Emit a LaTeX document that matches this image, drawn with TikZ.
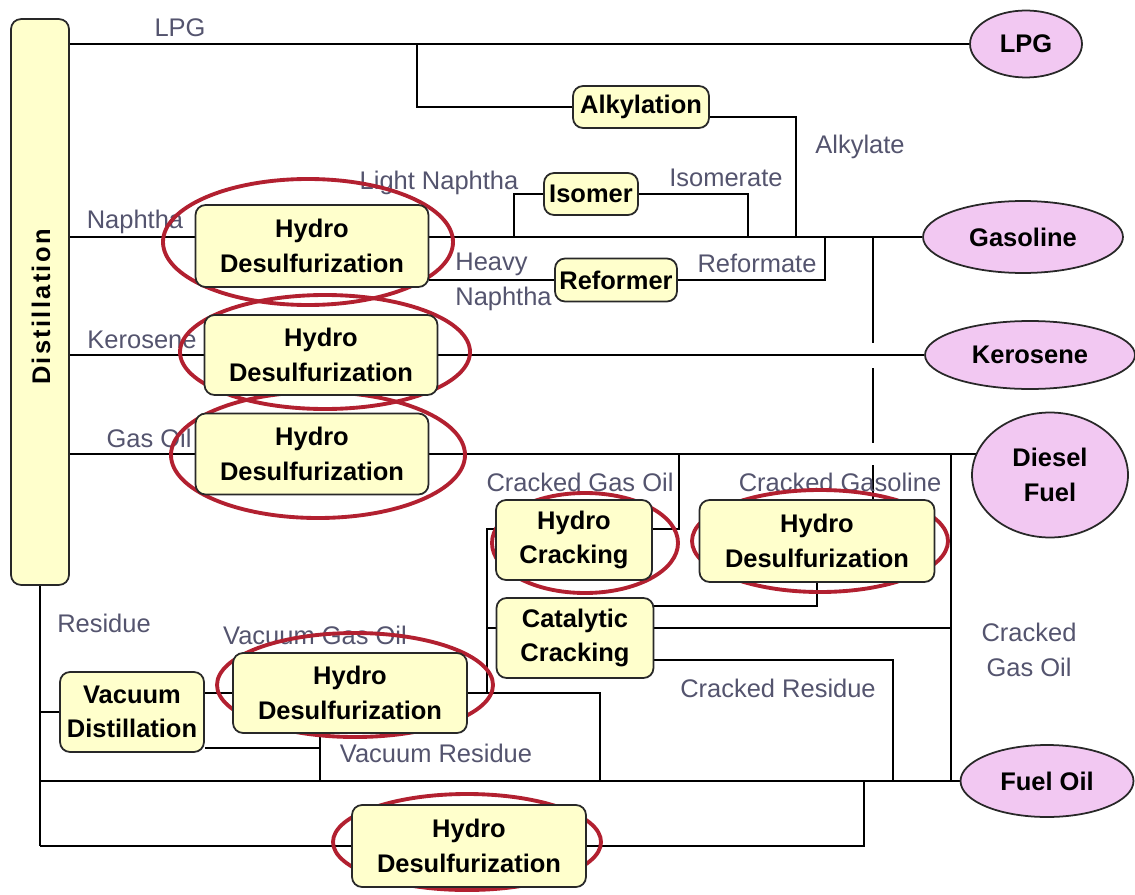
\documentclass[tikz,border=0pt]{standalone}
\usepackage{fontspec}
\setmainfont{Liberation Sans}
\usetikzlibrary{shapes.geometric}
\definecolor{boxfill}{RGB}{255,255,204}
\definecolor{prodfill}{RGB}{242,200,242}
\definecolor{ringred}{RGB}{178,32,48}
\definecolor{flowtext}{RGB}{84,84,110}
\definecolor{edge}{RGB}{40,40,40}
\pgfdeclarelayer{bg}
\pgfsetlayers{bg,main}
\tikzset{
  unit/.style={draw=edge, line width=1pt, rounded corners=0.2cm, fill=boxfill,
    align=center, inner sep=0pt, font=\fontsize{14.5}{19.5}\selectfont\bfseries},
  product/.style={ellipse, draw=edge, line width=1pt, fill=prodfill,
    align=center, inner sep=0pt, font=\fontsize{14.5}{19.5}\selectfont\bfseries},
  stream/.style={text=flowtext, align=center, inner sep=0pt,
    font=\fontsize{14.5}{19.5}\selectfont},
  pipe/.style={line width=1.3pt},
  ring/.style={draw=ringred, line width=2.2pt},
}
\begin{document}
\begin{tikzpicture}[x=0.02cm,y=-0.02cm]
\useasboundingbox (0,0) rectangle (1135,895);
\node[unit,minimum width=1.16cm,minimum height=11.32cm] (dist) at (40,302) {};
\node[rotate=90,font=\fontsize{14.5}{19.5}\selectfont\bfseries\addfontfeatures{LetterSpace=9}] at (41,307) {Distillation};
\node[unit,minimum width=2.72cm,minimum height=0.84cm] (alky) at (641,107) {Alkylation};
\node[unit,minimum width=1.88cm,minimum height=0.84cm] (isomer) at (591,194) {Isomer};
\node[unit,minimum width=2.44cm,minimum height=0.86cm] (reformer) at (616,280) {Reformer};
\node[unit,minimum width=4.66cm,minimum height=1.64cm] (hdsN) at (312,246) {Hydro\\Desulfurization};
\node[unit,minimum width=4.66cm,minimum height=1.6cm] (hdsK) at (321,355) {Hydro\\Desulfurization};
\node[unit,minimum width=4.66cm,minimum height=1.62cm] (hdsG) at (312,454) {Hydro\\Desulfurization};
\node[unit,minimum width=3.12cm,minimum height=1.6cm] (hcrack) at (574,540) {Hydro\\Cracking};
\node[unit,minimum width=4.7cm,minimum height=1.64cm] (hdsC) at (817,541) {Hydro\\Desulfurization};
\node[unit,minimum width=3.14cm,minimum height=1.6cm] (ccrack) at (575,638) {Catalytic\\Cracking};
\node[unit,minimum width=2.88cm,minimum height=1.6cm] (vacd) at (132,712) {Vacuum\\Distillation};
\node[unit,minimum width=4.68cm,minimum height=1.6cm] (hdsV) at (350,693) {Hydro\\Desulfurization};
\node[unit,minimum width=4.68cm,minimum height=1.64cm] (hdsB) at (469,846) {Hydro\\Desulfurization};
\node[product,minimum width=2.24cm,minimum height=1.34cm] (lpg) at (1026,44) {LPG};
\node[product,minimum width=4cm,minimum height=1.44cm] (gas) at (1023,237) {Gasoline};
\node[product,minimum width=4.2cm,minimum height=1.36cm] (kero) at (1030,355) {Kerosene};
\node[product,minimum width=3.12cm,minimum height=2.5cm] (diesel) at (1050,475) {Diesel\\Fuel};
\node[product,minimum width=3.46cm,minimum height=1.44cm] (fuel) at (1047,781) {Fuel Oil};
\coordinate (jAlky) at (417,44);
\coordinate (yAlk) at (0,117);
\coordinate (jAlkylate) at (796,237);
\coordinate (yN) at (0,237);
\coordinate (jLight) at (514,237);
\coordinate (jIsomerate) at (748,237);
\coordinate (jReformate) at (825,237);
\coordinate (jCrGas) at (873,237);
\coordinate (jHC) at (679,454);
\coordinate (yHC) at (0,529);
\coordinate (jCGO) at (951,454);
\coordinate (jCGOb) at (951,781);
\coordinate (y606) at (0,606);
\coordinate (yCC) at (0,628);
\coordinate (y660) at (0,660);
\coordinate (jCR) at (893,781);
\coordinate (jVGO) at (487,693);
\coordinate (jVGOb) at (600,781);
\coordinate (yVR) at (0,748);
\coordinate (jVR) at (320,781);
\coordinate (jRes) at (40,846);
\coordinate (jBot) at (864,781);
\begin{pgfonlayer}{bg}
\draw[pipe] (dist.east |- lpg.west) -- (lpg.west);
\draw[pipe] (jAlky) |- (alky.west);
\draw[pipe] (alky.east |- yAlk) -| (jAlkylate);
\draw[pipe] (dist.east |- yN) -- (hdsN.west |- yN);
\draw[pipe] (hdsN.east |- yN) -- (gas.west);
\draw[pipe] (jLight) |- (isomer.west);
\draw[pipe] (isomer.east) -| (jIsomerate);
\draw[pipe] (hdsN.east |- reformer.west) -- (reformer.west);
\draw[pipe] (reformer.east) -| (jReformate);
\draw[pipe] (jCrGas) -- ++(0,106) ++(0,25) -- ++(0,75) ++(0,22) -- (jCrGas |- hdsC.north);
\draw[pipe] (dist.east |- hdsK.west) -- (hdsK.west);
\draw[pipe] (hdsK.east) -- (kero.west);
\draw[pipe] (dist.east |- hdsG.west) -- (hdsG.west);
\draw[pipe] (hdsG.east) -- (diesel.164 |- hdsG.east);
\draw[pipe] (jCGO) -- (jCGOb);
\draw[pipe] (hcrack.east |- yHC) -| (jHC);
\draw[pipe] (hcrack.west |- yHC) -| (jVGO);
\draw[pipe] (ccrack.west |- yCC) -- (jVGO |- yCC);
\draw[pipe] (hdsV.east) -| (jVGOb);
\draw[pipe] (ccrack.east |- y606) -| (hdsC.south);
\draw[pipe] (ccrack.east |- yCC) -- (jCGO |- yCC);
\draw[pipe] (ccrack.east |- y660) -| (jCR);
\draw[pipe] (dist.south) -- (jRes);
\draw[pipe] (dist.south |- vacd.west) -- (vacd.west);
\draw[pipe] (vacd.east |- hdsV.west) -- (hdsV.west);
\draw[pipe] (vacd.east |- yVR) -| (jVR);
\draw[pipe] (jVR |- hdsV.south) -- (jVR);
\draw[pipe] (dist.south |- fuel.west) -- (fuel.west);
\draw[pipe] (jRes) -- (hdsB.west);
\draw[pipe] (hdsB.east) -| (jBot);
\node[stream] at (180,28) {LPG};
\node[stream] at (135,222) {Naphtha};
\node[stream] at (439,183) {Light Naphtha};
\node[stream] at (726,178) {Isomerate};
\node[stream] at (860,147) {Alkylate};
\node[stream,align=left,anchor=west] at (455,282) {Heavy\\Naphtha};
\node[stream] at (757,263) {Reformate};
\node[stream] at (142,340) {Kerosene};
\node[stream] at (149,438) {Gas Oil};
\node[stream] at (580,482) {Cracked Gas Oil};
\node[stream] at (840,482) {Cracked Gasoline};
\node[stream] at (1029,650) {Cracked\\Gas Oil};
\node[stream] at (778,688) {Cracked Residue};
\node[stream] at (104,623) {Residue};
\node[stream] at (315,635) {Vacuum Gas Oil};
\node[stream] at (436,753) {Vacuum Residue};
\draw[ring] ([shift={(-4,-4)}]hdsN) ellipse (145 and 63);
\draw[ring] ([shift={(4,-3)}]hdsK) ellipse (145 and 57);
\draw[ring] ([shift={(6,1)}]hdsG) ellipse (147 and 63);
\draw[ring] ([shift={(11,3)}]hcrack) ellipse (93 and 50);
\draw[ring] ([shift={(3,0)}]hdsC) ellipse (128 and 51);
\draw[ring] ([shift={(5,-8)}]hdsV) ellipse (138 and 52);
\draw[ring] ([shift={(-2,-4)}]hdsB) ellipse (134 and 48);
\end{pgfonlayer}
\end{tikzpicture}
\end{document}
